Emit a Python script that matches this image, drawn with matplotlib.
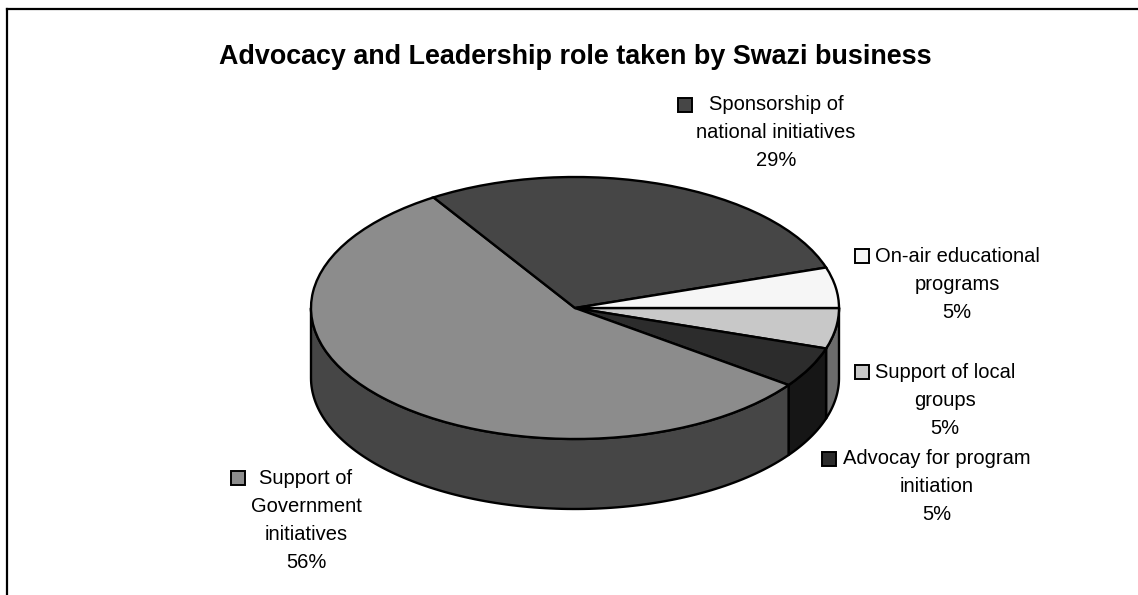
import matplotlib
matplotlib.use("Agg")
import matplotlib.pyplot as plt
import numpy as np
from matplotlib.patches import Rectangle, Polygon
from matplotlib.lines import Line2D

plt.rcParams['font.family'] = ['Liberation Sans', 'DejaVu Sans']

W, H = 1138, 595

title = "Advocacy and Leadership role taken by Swazi business"

# slices in the order they are laid out, clockwise from 3 o'clock
categories = ["Support of local groups",
              "Advocay for program initiation",
              "Support of Government initiatives",
              "Sponsorship of national initiatives",
              "On-air educational programs"]
values = [5, 5, 56, 29, 5]
top_colors = ["#c8c8c8", "#2c2c2c", "#8c8c8c", "#464646", "#f6f6f6"]
side_colors = ["#6c6c6c", "#161616", "#464646", "#232323", "#7b7b7b"]

# label text as it wraps next to each slice
label_lines = [["Support of local", "groups", "5%"],
               ["Advocay for program", "initiation", "5%"],
               ["Support of", "Government", "initiatives", "56%"],
               ["Sponsorship of", "national initiatives", "29%"],
               ["On-air educational", "programs", "5%"]]
# (text centre x, first line y, key centre x) in pixels
label_pos = [(945, 372, 862),
             (937, 459, 829),
             (306, 478, 238),
             (776, 105, 685),
             (957, 256, 862)]

fig = plt.figure(figsize=(W / 100, H / 100), dpi=100)

def fx(x):
    return x / W

def fy(y):
    return 1 - y / H

# chart frame (only left and top edges fall inside the image)
fig.add_artist(Line2D([fx(6.5), fx(6.5)], [fy(8.5), fy(H)], color="black", lw=1.6))
fig.add_artist(Line2D([fx(6.5), fx(W)], [fy(8.5), fy(8.5)], color="black", lw=1.6))

fig.text(fx(575), fy(57), title, ha="center", va="center",
         fontsize=19.4, fontweight="bold")

# pie: top ellipse centre (575, 308), radii 264 x 131 px, wall depth 70 px
cx, cy, rx, ry, depth = 575, 308, 264, 131, 70
d = depth / ry
ax = fig.add_axes([fx(cx - rx), fy(cy + ry + depth), 2 * rx / W, (2 * ry + depth) / H])
wedges, _ = ax.pie(values, colors=top_colors, startangle=0, counterclock=False,
                   wedgeprops=dict(edgecolor="black", linewidth=1.7))
ax.set_aspect("auto")
ax.set_xlim(-1, 1)
ax.set_ylim(-1 - d, 1)
ax.axis("off")
for w in wedges:
    w.set_zorder(3)
    w.set_clip_on(False)

# front walls of the cylinder
for w, sc in zip(wedges, side_colors):
    t1, t2 = max(w.theta1, -180), min(w.theta2, 0)
    if t2 <= t1:
        continue
    t = np.radians(np.linspace(t1, t2, 120))
    top = np.column_stack([np.cos(t), np.sin(t)])
    bot = np.column_stack([np.cos(t[::-1]), np.sin(t[::-1]) - d])
    ax.add_patch(Polygon(np.vstack([top, bot]), closed=True, facecolor=sc,
                         edgecolor="black", lw=1.7, zorder=1, clip_on=False,
                         joinstyle="round"))

# labels with legend keys
key = 14
for lines, (tx, ty, kx), col in zip(label_lines, label_pos, top_colors):
    for i, s in enumerate(lines):
        fig.text(fx(tx), fy(ty + 28 * i), s, ha="center", va="center", fontsize=14.5)
    fig.add_artist(Rectangle((fx(kx - key / 2), fy(ty + key / 2)), key / W, key / H,
                             transform=fig.transFigure, facecolor=col,
                             edgecolor="black", lw=1.4))

fig.savefig("out.png", dpi=100)
